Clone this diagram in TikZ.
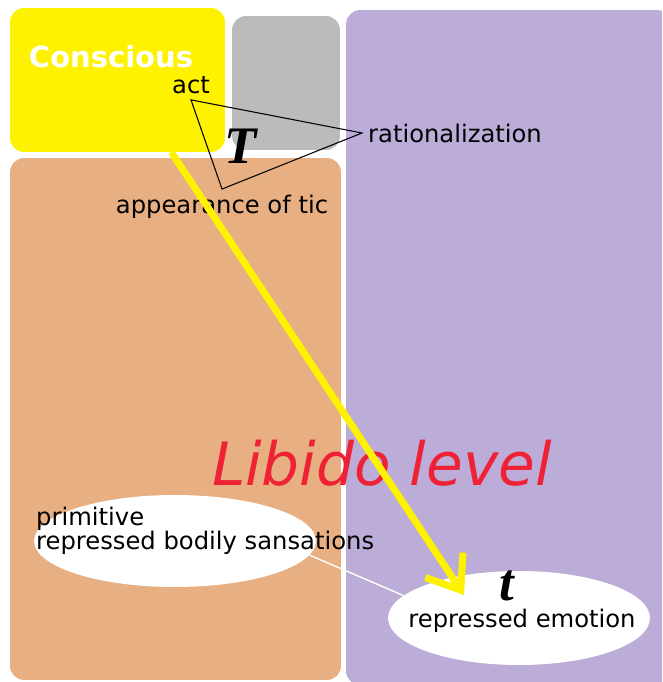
\documentclass[tikz,border=0pt]{standalone}
\usepackage{fontspec}
\setmainfont{DejaVu Sans}
\newfontfamily\timesfont{Liberation Serif}
\usetikzlibrary{arrows.meta,calc,shapes.geometric}
\definecolor{conscyellow}{RGB}{255,242,0}
\definecolor{boxgray}{RGB}{187,187,187}
\definecolor{boxtan}{RGB}{231,175,130}
\definecolor{boxlilac}{RGB}{188,172,216}
\definecolor{libidored}{RGB}{238,34,52}

\begin{document}
\begin{tikzpicture}[x=0.02cm,y=-0.02cm,
   every node/.style={font=\fontsize{13.8}{13.6}\selectfont},
   region/.style={rectangle,rounded corners=8pt,inner sep=0pt},
   blob/.style={ellipse,fill=white,inner sep=0pt},
   bigletter/.style={font=\timesfont\bfseries\itshape\fontsize{30}{30}\selectfont}]
\clip (0,0) rectangle (662,682);
% the three levels
\node[region,fill=conscyellow,minimum width=4.3cm,minimum height=2.88cm] (conscious) at (117.5,80) {};
\node[region,fill=boxgray,minimum width=2.16cm,minimum height=2.68cm] (preconscious) at (286,83) {};
\node[region,fill=boxtan,minimum width=6.62cm,minimum height=10.44cm] (body) at (175.5,419) {};
\node[region,fill=boxlilac,minimum width=6.5cm,minimum height=13.5cm] (psyche) at (508.5,347.5) {};
\node[font=\bfseries\fontsize{16.5}{16.5}\selectfont,text=white] (consciouslabel) at (111,57) {Conscious};
% the triangle
\node (act) at (191,85) {act};
\node (tic) at (222,207) {appearance of tic};
\node (rationalization) at (455,133) {rationalization};
\node[bigletter] (bigT) at (241,146) {T};
\draw[line width=0.6pt] (act.south) -- (tic.north) -- (rationalization.west) -- cycle;
\node[text=libidored,font=\itshape\fontsize{34}{34}\selectfont] (libido) at (382,463) {Libido level};
% repressed things
\node[blob,minimum width=5.64cm,minimum height=1.84cm] (bodily) at (175,541) {};
\node[align=left,anchor=west] (bodilytext) at (30,531) {primitive\\repressed bodily sansations};
\node[blob,minimum width=5.24cm,minimum height=1.88cm] (emotion) at (519,618) {};
\node (emotiontext) at (522,621) {repressed emotion};
\node[bigletter] (smallt) at (507,586) {t};
\draw[white,line width=0.8pt] (bodily.-6) -- (emotion.169);
\coordinate (leave) at ($(conscious.south west)!0.75!(conscious.south east)$);
\coordinate (tip) at ($(emotion.center)+(-55,-23)$);
\draw[conscyellow,line width=4pt,-{Straight Barb[length=0.6cm,width=0.9cm]}] (leave) -- (tip);
\end{tikzpicture}
\end{document}
